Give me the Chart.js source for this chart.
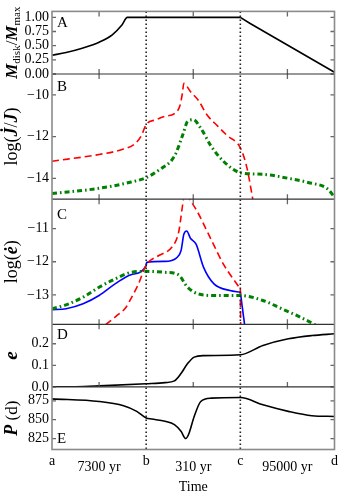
<!DOCTYPE html>
<html><head><meta charset="utf-8">
<script src="https://cdn.jsdelivr.net/npm/chart.js@4"></script>
<style>html,body{margin:0;padding:0;background:#fff;}canvas{display:block;}</style>
</head><body>
<canvas id="c" width="347" height="500"></canvas>
<script>
// ---------- data ----------
const pointLetters = ['a', 'b', 'c', 'd'];
const spanLabels = ['7300 yr', '310 yr', '95000 yr'];
const xTickValues = [0, 0.5, 1, 1.5, 2, 2.5, 3];
const dividerValues = [1, 2];
const midTickValues = [0.5, 1.5, 2.5];
const panelLetters = ['A', 'B', 'C', 'D', 'E'];

const ticksA = [0, 0.25, 0.5, 0.75, 1.0];
const ticksB = [-14, -12, -10];
const ticksC = [-13, -12, -11];
const ticksD = [0, 0.1, 0.2];
const ticksE = [825, 850, 875];

// Panel A: disk mass
const mdiskX = [0, 0.15, 0.33, 0.5, 0.64, 0.74, 0.8, 1.0, 1.5, 2.0];
const mdiskY = [0.33, 0.38, 0.46, 0.56, 0.69, 0.86, 1.0, 1.0, 1.0, 1.0];
const mdiskDecayX = [2.0, 2.1, 3.0];
const mdiskDecayY = [1.0, 0.895, 0.03];

// Panel B: log(Jdot/J)
const jRedX = [0, 0.5, 0.76, 0.88, 0.95, 1.0, 1.1, 1.2, 1.3, 1.36, 1.385, 1.4, 1.47, 1.56, 1.645, 1.76, 1.86, 2.0, 2.07, 2.14];
const jRedY = [-13.18, -12.86, -12.6, -12.35, -11.95, -11.42, -11.2, -11.03, -10.9, -10.5, -9.92, -9.45, -9.84, -10.3, -10.95, -11.5, -11.95, -12.54, -13.5, -15.2];
const jGreenX = [0, 0.5, 0.84, 1.0, 1.13, 1.3, 1.39, 1.44, 1.5, 1.58, 1.69, 1.82, 2.0, 2.24, 2.51, 2.72, 2.93, 3.0];
const jGreenY = [-14.73, -14.48, -14.18, -13.97, -13.62, -12.94, -11.9, -11.27, -11.19, -11.6, -12.46, -13.18, -13.73, -13.81, -14.0, -14.2, -14.52, -14.92];

// Panel C: log(edot)
const eBlueX = [0, 0.15, 0.33, 0.5, 0.67, 0.84, 1.0, 1.005, 1.2, 1.32, 1.37, 1.4, 1.43, 1.47, 1.53, 1.61, 1.72, 1.89, 2.0];
const eBlueY = [-13.45, -13.42, -13.27, -13.02, -12.67, -12.39, -12.12, -12.02, -11.99, -11.89, -11.67, -11.17, -11.07, -11.29, -11.47, -12.17, -12.67, -12.87, -12.92];
const eBlueDropX = [2.0, 2.05];
const eBlueDropY = [-12.92, -14.0];
const eRedX = [0.57, 0.7, 0.78, 0.85, 0.92, 1.0, 1.13, 1.27, 1.34, 1.42, 1.47, 1.54, 1.68, 1.82, 2.0];
const eRedY = [-13.9, -13.6, -13.4, -13.05, -12.66, -12.1, -11.82, -11.57, -11.17, -9.9, -10.15, -10.47, -11.27, -12.07, -12.82];
const eRedDropX = [2.0, 2.005];
const eRedDropY = [-12.82, -14.5];
const eGreenX = [0, 0.15, 0.33, 0.5, 0.67, 0.84, 1.0, 1.2, 1.34, 1.44, 1.55, 1.72, 2.0, 2.24, 2.44, 2.62, 2.79, 2.9];
const eGreenY = [-13.42, -13.3, -13.07, -12.77, -12.52, -12.32, -12.29, -12.32, -12.39, -12.77, -12.97, -13.02, -13.02, -13.17, -13.42, -13.65, -13.9, -14.1];

// Panel D: eccentricity
const eccX = [0, 0.25, 0.5, 1.0, 1.2, 1.3, 1.37, 1.44, 1.51, 1.61, 2.0, 2.24, 2.51, 2.76, 3.0];
const eccY = [0, 0.001, 0.005, 0.015, 0.02, 0.028, 0.062, 0.108, 0.138, 0.145, 0.149, 0.192, 0.223, 0.238, 0.246];

// Panel E: period (d)
const perX = [0, 0.5, 0.76, 0.9, 1.0, 1.06, 1.2, 1.3, 1.37, 1.42, 1.45, 1.51, 1.58, 1.69, 2.0, 2.24, 2.51, 2.76, 3.0];
const perY = [877.6, 874.1, 868.4, 861, 852.2, 850.9, 847.8, 843.4, 834.6, 825, 830.3, 854.3, 874.1, 878.5, 879.3, 869.7, 861, 855.3, 854.3];

// ---------- styling ----------
const SERIF = '"Liberation Serif", "DejaVu Serif", serif';
Chart.defaults.font.family = SERIF;
Chart.defaults.font.size = 14;
Chart.defaults.color = '#000';

const pts = (xs, ys) => xs.map((x, i) => ({ x: x, y: ys[i] }));
const RED = '#ff0000', GREEN = '#008000', BLUE = '#0000ff', BLACK = '#000000';
const dashRed = [7, 4];
const dashGreen = [5, 3, 1.6, 3];

function ds(data, axis, color, width, dash, straight) {
  return {
    data: data, yAxisID: axis, borderColor: color, borderWidth: width,
    borderDash: dash || [], borderCapStyle: 'butt', pointRadius: 0, fill: false,
    cubicInterpolationMode: straight ? 'default' : 'monotone', tension: 0
  };
}

const minus = v => (v < 0 ? '\u2212' + Math.abs(v) : String(v));

function yAxis(ticks, min, max, weight, fmt) {
  return {
    type: 'linear', position: 'left', stack: 'panels', stackWeight: weight.sw, weight: weight.w,
    min: min, max: max,
    afterBuildTicks: s => { s.ticks = ticks.map(v => ({ value: v })); },
    afterFit: s => { s.width = 52; },
    ticks: { callback: fmt, autoSkip: false, padding: 3, font: { size: 14 } },
    grid: { display: false, drawTicks: false },
    border: { display: false }
  };
}

const panelIds = ['yA', 'yB', 'yC', 'yD', 'yE'];

const panelPlugin = {
  id: 'panels',
  beforeDatasetDraw(chart, args) {
    const ys = args.meta.yScale, ca = chart.chartArea, ctx = chart.ctx;
    ctx.save();
    ctx.beginPath();
    ctx.rect(ca.left, ys.top, ca.right - ca.left, ys.bottom - ys.top);
    ctx.clip();
  },
  afterDatasetDraw(chart) { chart.ctx.restore(); },
  afterDatasetsDraw(chart) {
    const ctx = chart.ctx, ca = chart.chartArea, xs = chart.scales.x;
    const panels = panelIds.map(id => chart.scales[id]);
    ctx.save();
    // dotted dividers
    ctx.strokeStyle = '#222'; ctx.lineWidth = 1.6; ctx.setLineDash([1.6, 2.4]);
    ctx.beginPath();
    dividerValues.forEach(v => {
      const px = xs.getPixelForValue(v);
      ctx.moveTo(px, ca.top); ctx.lineTo(px, ca.bottom);
    });
    ctx.stroke();
    ctx.setLineDash([]);
    // ticks
    ctx.strokeStyle = '#666'; ctx.lineWidth = 1.3;
    ctx.beginPath();
    panels.forEach((s, i) => {
      s.ticks.forEach(t => {
        const py = s.getPixelForValue(t.value);
        ctx.moveTo(ca.left, py); ctx.lineTo(ca.left + 4, py);
        ctx.moveTo(ca.right - 4, py); ctx.lineTo(ca.right, py);
      });
      if (i < 4) {
        midTickValues.forEach(v => {
          const px = xs.getPixelForValue(v);
          ctx.moveTo(px, s.top); ctx.lineTo(px, s.top + 5);
          ctx.moveTo(px, s.bottom - 5); ctx.lineTo(px, s.bottom);
        });
      }
    });
    ctx.stroke();
    // separators
    ctx.strokeStyle = '#333'; ctx.lineWidth = 1.2;
    ctx.beginPath();
    panels.slice(0, 4).forEach(s => { ctx.moveTo(ca.left, s.bottom); ctx.lineTo(ca.right, s.bottom); });
    ctx.stroke();
    // frame
    ctx.strokeStyle = '#8a8a8a'; ctx.lineWidth = 1.6;
    ctx.strokeRect(ca.left, ca.top, ca.right - ca.left, ca.bottom - ca.top);
    ctx.restore();
  },
  afterDraw(chart) {
    const ctx = chart.ctx, ca = chart.chartArea;
    const panels = panelIds.map(id => chart.scales[id]);
    ctx.save();
    ctx.fillStyle = '#000';
    ctx.font = '15px ' + SERIF;
    ctx.textBaseline = 'middle';
    ctx.textAlign = 'left';
    const offs = [12, 13, 16, 11, -10];
    panels.forEach((s, i) => {
      const y = offs[i] >= 0 ? s.top + offs[i] : s.bottom + offs[i];
      ctx.fillText(panelLetters[i], ca.left + 5, y);
    });
    // y titles
    const big = sz => 'bold italic ' + sz + 'px ' + SERIF;
    const rom = sz => sz + 'px ' + SERIF;
    const titles = [
      [{ t: 'M', f: big(17) }, { t: 'disk', f: rom(11), dy: 3 }, { t: '/', f: rom(17) }, { t: 'M', f: big(17) }, { t: 'max', f: rom(11), dy: 3 }],
      [{ t: 'log(', f: rom(18) }, { t: 'J\u0307', f: big(18) }, { t: '/', f: rom(18) }, { t: 'J', f: big(18) }, { t: ')', f: rom(18) }],
      [{ t: 'log(', f: rom(18) }, { t: '\u0117', f: big(18) }, { t: ')', f: rom(18) }],
      [{ t: 'e', f: big(19) }],
      [{ t: 'P', f: big(18) }, { t: ' (d)', f: rom(17) }]
    ];
    panels.forEach((s, i) => {
      drawMath(ctx, titles[i], 12, (s.top + s.bottom) / 2);
    });
    ctx.restore();
  }
};

function drawMath(ctx, segs, cx, cy) {
  let w = 0;
  segs.forEach(s => { ctx.font = s.f; s.w = ctx.measureText(s.t).width; w += s.w; });
  ctx.save();
  ctx.translate(cx, cy);
  ctx.rotate(-Math.PI / 2);
  ctx.textBaseline = 'alphabetic';
  ctx.textAlign = 'left';
  ctx.fillStyle = '#000';
  let x = -w / 2;
  segs.forEach(s => { ctx.font = s.f; ctx.fillText(s.t, x, 5 + (s.dy || 0)); x += s.w; });
  ctx.restore();
}

new Chart(document.getElementById('c'), {
  type: 'line',
  data: {
    datasets: [
      ds(pts(mdiskX, mdiskY), 'yA', BLACK, 1.6),
      ds(pts(mdiskDecayX, mdiskDecayY), 'yA', BLACK, 1.6, null, true),
      ds(pts(jRedX, jRedY), 'yB', RED, 1.6, dashRed),
      ds(pts(jGreenX, jGreenY), 'yB', GREEN, 3, dashGreen),
      ds(pts(eGreenX, eGreenY), 'yC', GREEN, 3, dashGreen),
      ds(pts(eRedX, eRedY), 'yC', RED, 1.6, dashRed),
      ds(pts(eRedDropX, eRedDropY), 'yC', RED, 1.6, dashRed, true),
      ds(pts(eBlueX, eBlueY), 'yC', BLUE, 1.6),
      ds(pts(eBlueDropX, eBlueDropY), 'yC', BLUE, 1.6, null, true),
      ds(pts(eccX, eccY), 'yD', BLACK, 1.6),
      ds(pts(perX, perY), 'yE', BLACK, 1.6)
    ]
  },
  options: {
    responsive: false,
    animation: false,
    devicePixelRatio: 1,
    layout: { padding: { top: 9, right: 7, left: 0, bottom: 4 } },
    plugins: { legend: { display: false }, tooltip: { enabled: false } },
    scales: {
      x: {
        type: 'linear', min: 0, max: 3,
        afterBuildTicks: s => { s.ticks = xTickValues.map(v => ({ value: v })); },
        afterFit: s => { s.height = 46.5; },
        ticks: {
          autoSkip: false, maxRotation: 0, minRotation: 0, padding: 9,
          font: { size: 14, lineHeight: '6px' },
          callback: v => (Number.isInteger(v) ? pointLetters[v] : ['', spanLabels[Math.floor(v)]])
        },
        grid: { display: false, drawTicks: false },
        border: { display: false },
        title: { display: true, text: 'Time', font: { size: 14 }, padding: { top: 9, bottom: 0 } }
      },
      yE: yAxis(ticksE, 810.5, 893.4, { sw: 1, w: 1 }, v => String(v)),
      yD: yAxis(ticksD, 0, 0.29, { sw: 1, w: 2 }, v => v.toFixed(1)),
      yC: yAxis(ticksC, -13.89, -10.11, { sw: 2, w: 3 }, minus),
      yB: yAxis(ticksB, -15, -9, { sw: 2, w: 4 }, minus),
      yA: yAxis(ticksA, 0, 1.105, { sw: 1, w: 5 }, v => v.toFixed(2))
    }
  },
  plugins: [panelPlugin]
});
</script>
</body></html>
